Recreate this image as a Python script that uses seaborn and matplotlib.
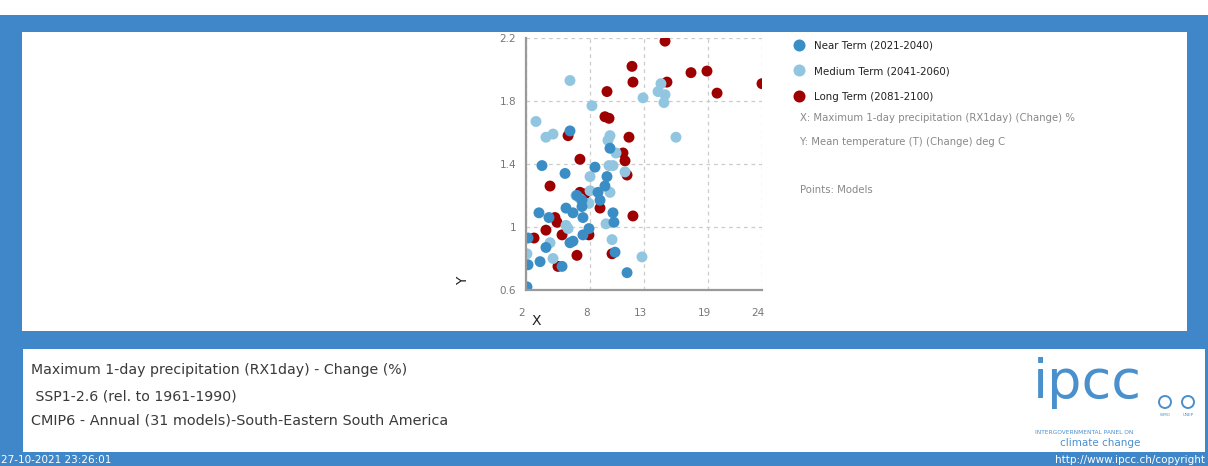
import pandas as pd
import seaborn as sns
import matplotlib.pyplot as plt
from matplotlib.patches import Rectangle, Ellipse
from matplotlib.transforms import ScaledTranslation

# ---------------------------------------------------------
# data
# ---------------------------------------------------------
periods = ["Near Term (2021-2040)", "Medium Term (2041-2060)", "Long Term (2081-2100)"]
colors = ["#3b8dc6", "#92c6e0", "#9e0000"]

near_x = [6.10, 3.49, 5.64, 8.43, 9.55, 9.83, 7.22, 8.90, 5.73, 6.38,
          3.21, 4.14, 10.11, 10.20, 7.87, 7.31, 2.19, 3.86, 6.10, 6.38,
          3.31, 2.19, 5.36, 10.30, 11.42, 2.09, 7.31, 6.75, 8.71, 7.22, 9.36]
near_y = [1.61, 1.39, 1.34, 1.38, 1.32, 1.50, 1.13, 1.17, 1.12, 1.09,
          1.09, 1.06, 1.09, 1.03, 0.99, 0.95, 0.93, 0.87, 0.90, 0.91,
          0.78, 0.76, 0.75, 0.84, 0.71, 0.62, 1.06, 1.20, 1.22, 1.17, 1.26]

med_x = [6.10, 8.15, 2.93, 3.86, 4.52, 12.91, 14.58, 14.31, 14.96, 14.86,
         15.98, 9.83, 9.64, 10.39, 9.74, 10.11, 11.23, 7.97, 7.97, 7.03,
         7.87, 9.83, 9.46, 5.73, 10.02, 4.24, 2.09, 4.52, 12.81, 6.66, 5.92]
med_y = [1.93, 1.77, 1.67, 1.57, 1.59, 1.82, 1.91, 1.86, 1.84, 1.79,
         1.57, 1.58, 1.55, 1.47, 1.39, 1.39, 1.35, 1.32, 1.23, 1.18,
         1.15, 1.22, 1.02, 1.01, 0.92, 0.90, 0.83, 0.80, 0.81, 1.20, 0.99]

long_x = [14.96, 11.88, 17.38, 18.87, 11.97, 15.14, 24.0, 19.81, 9.55, 9.36,
          9.74, 5.92, 11.60, 11.04, 11.23, 11.42, 7.03, 4.24, 7.03, 7.50,
          8.90, 11.97, 4.70, 4.89, 3.86, 5.36, 2.75, 7.87, 6.75, 10.02, 4.98]
long_y = [2.18, 2.02, 1.98, 1.99, 1.92, 1.92, 1.91, 1.85, 1.86, 1.70,
          1.69, 1.58, 1.57, 1.47, 1.42, 1.33, 1.43, 1.26, 1.22, 1.21,
          1.12, 1.07, 1.06, 1.03, 0.98, 0.95, 0.93, 0.95, 0.82, 0.83, 0.75]

x_ticks = [2, 8, 13, 19, 24]
y_ticks = [0.6, 1, 1.4, 1.8, 2.2]
y_tick_labels = ["0.6", "1", "1.4", "1.8", "2.2"]

# long term drawn first, near term on top
df = pd.concat([
    pd.DataFrame({"x": long_x, "y": long_y, "period": periods[2]}),
    pd.DataFrame({"x": med_x, "y": med_y, "period": periods[1]}),
    pd.DataFrame({"x": near_x, "y": near_y, "period": periods[0]}),
], ignore_index=True)

# ---------------------------------------------------------
# figure frame
# ---------------------------------------------------------
sns.set_style("white")
W, H = 1208, 466
blue = "#3f87c9"
fig = plt.figure(figsize=(W / 100, H / 100), dpi=100, facecolor=blue)


def px_rect(x0, y0, x1, y1, color):
    fig.add_artist(Rectangle((x0 / W, 1 - y1 / H), (x1 - x0) / W, (y1 - y0) / H,
                             transform=fig.transFigure, facecolor=color,
                             edgecolor="none", zorder=-10))


px_rect(0, 0, W, 15, "white")
px_rect(22, 32, 1187, 331, "white")
px_rect(23, 349, 1205, 452, "white")

# ---------------------------------------------------------
# scatter
# ---------------------------------------------------------
ax = fig.add_axes([526 / W, 1 - 290 / H, 236 / W, 252 / H])
ax.set_facecolor("white")
sns.scatterplot(data=df, x="x", y="y", hue="period", hue_order=periods,
                palette=colors, s=62, linewidth=0, alpha=1, ax=ax)

ax.set_xlim(2, 24)
ax.set_ylim(0.6, 2.2)
ax.set_xticks(x_ticks)
ax.set_xticklabels([str(t) for t in x_ticks])
ax.set_yticks(y_ticks)
ax.set_yticklabels(y_tick_labels)
ax.grid(True, color="#cccccc", linestyle=(0, (3, 3)), linewidth=0.9)
ax.set_axisbelow(True)
for side in ["top", "right"]:
    ax.spines[side].set_visible(False)
for side in ["left", "bottom"]:
    ax.spines[side].set_color("#999999")
    ax.spines[side].set_linewidth(1.6)
ax.tick_params(axis="both", colors="#999999", labelcolor="#777777",
               labelsize=7.5, length=4, width=1.2)
ax.tick_params(axis="x", pad=9)
ax.tick_params(axis="y", pad=3)
for lab in ax.get_xticklabels():
    lab.set_transform(lab.get_transform() + ScaledTranslation(-4 / 100, 0, fig.dpi_scale_trans))

ax.set_xlabel("X", fontsize=10, color="#222222")
ax.set_ylabel("Y", fontsize=10, color="#222222")
ax.xaxis.label.set_va("center")
ax.yaxis.label.set_va("center")
ax.xaxis.set_label_coords((536 - 526) / 236, (290 - 321) / 252)
ax.yaxis.set_label_coords((463 - 526) / 236, (290 - 281) / 252)

sns.move_legend(ax, "upper left", bbox_to_anchor=(789 / W, 1 - 35 / H),
                bbox_transform=fig.transFigure, frameon=False, title=None,
                fontsize=7.4, labelspacing=1.55, handletextpad=0.95,
                markerscale=1.1, borderpad=0, handlelength=1.0)
for t in ax.get_legend().get_texts():
    t.set_color("#222222")

gray = "#888888"
fig.text(800 / W, 1 - 118 / H, "X: Maximum 1-day precipitation (RX1day) (Change) %",
         fontsize=7.3, color=gray, va="center")
fig.text(800 / W, 1 - 142 / H, "Y: Mean temperature (T) (Change) deg C",
         fontsize=7.3, color=gray, va="center")
fig.text(800 / W, 1 - 190 / H, "Points: Models", fontsize=7.3, color=gray, va="center")

# ---------------------------------------------------------
# caption panel
# ---------------------------------------------------------
cap = "#3a3a3a"
fig.text(31 / W, 1 - 370 / H, "Maximum 1-day precipitation (RX1day) - Change (%)",
         fontsize=10.2, color=cap, va="center")
fig.text(31 / W, 1 - 396 / H, " SSP1-2.6 (rel. to 1961-1990)",
         fontsize=10.2, color=cap, va="center")
fig.text(31 / W, 1 - 421 / H, "CMIP6 - Annual (31 models)-South-Eastern South America",
         fontsize=10.4, color=cap, va="center")

logo = "#4a90cc"
fig.text(1033 / W, 1 - 398 / H, "ipcc", fontsize=39, color=logo, va="baseline")
fig.text(1035 / W, 1 - 432 / H, "INTERGOVERNMENTAL PANEL ON", fontsize=4.2,
         color=logo, va="center")
fig.text(1140 / W, 1 - 443 / H, "climate change", fontsize=7.5, color=logo,
         va="center", ha="right")
for cx, name in [(1165, "WMO"), (1188, "UNEP")]:
    fig.add_artist(Ellipse((cx / W, 1 - 402 / H), 12 / W, 12 / H,
                           transform=fig.transFigure, facecolor="none",
                           edgecolor=logo, linewidth=1.4))
    fig.text(cx / W, 1 - 415 / H, name, fontsize=3.0, color=logo,
             ha="center", va="center")

# footer
fig.text(1 / W, 1 - 460 / H, "27-10-2021 23:26:01", fontsize=7.5, color="white", va="center")
fig.text(1205 / W, 1 - 460 / H, "http://www.ipcc.ch/copyright", fontsize=7.5,
         color="white", va="center", ha="right")

fig.savefig("out.png", dpi=100, facecolor=blue)
